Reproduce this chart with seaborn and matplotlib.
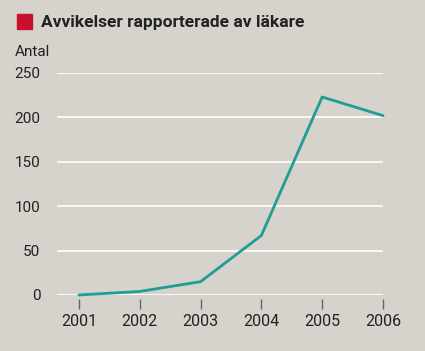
import matplotlib
matplotlib.use("Agg")
import matplotlib.pyplot as plt
import matplotlib.transforms as mtrans
import seaborn as sns
import pandas as pd
from matplotlib.patches import Rectangle

# Data
years = [2001, 2002, 2003, 2004, 2005, 2006]
counts = [0, 4, 15, 67, 223, 202]
y_ticks = [0, 50, 100, 150, 200, 250]

BG = "#d6d3cd"
LINE = "#1f9e93"
TEXT = "#222222"

sns.set_theme(style="white")
plt.rcParams["font.family"] = ["Roboto", "DejaVu Sans"]

df = pd.DataFrame({"year": years, "count": counts})

fig = plt.figure(figsize=(4.25, 3.51), dpi=100, facecolor=BG)
ax = fig.add_axes([57 / 425, 56 / 351, 326 / 425, 222 / 351])
ax.set_facecolor(BG)

# white horizontal gridlines
for v in y_ticks:
    ax.axhline(v, color="white", lw=1.2, zorder=1)

sns.lineplot(data=df, x="year", y="count", ax=ax, color=LINE, lw=2, zorder=3)
ax.lines[-1].set_clip_on(False)

ax.set_xlim(2000.64, 2006)
ax.set_ylim(0, 250)
for s in ax.spines.values():
    s.set_visible(False)

ax.set_xticks(years)
ax.set_xticklabels([str(y) for y in years], fontsize=11.5, color=TEXT)
ax.set_yticks(y_ticks)
ax.set_yticklabels([str(v) for v in y_ticks], fontsize=11, color=TEXT)
ax.tick_params(axis="x", length=7, width=1, color="#666666", pad=7, direction="out",
               bottom=True)
ax.tick_params(axis="y", length=0, pad=12)
ax.set_xlabel("")
ax.set_ylabel("")

# push the year tick marks a bit below the zero line
offset = mtrans.ScaledTranslation(0, -4 / 100, fig.dpi_scale_trans)
for t in ax.xaxis.get_major_ticks():
    t.tick1line.set_transform(t.tick1line.get_transform() + offset)

fig.patches.append(Rectangle((17 / 425, 1 - 29 / 351), 15 / 425, 15 / 351,
                             transform=fig.transFigure, color="#c8102e", figure=fig))
fig.text(41 / 425, 1 - 22 / 351, "Avvikelser rapporterade av läkare",
         fontsize=12.5, fontweight="bold", color=TEXT, va="center", ha="left")
fig.text(15 / 425, 1 - 52 / 351, "Antal", fontsize=11, color=TEXT,
         va="center", ha="left")

fig.savefig("out.png", dpi=100, facecolor=BG)
